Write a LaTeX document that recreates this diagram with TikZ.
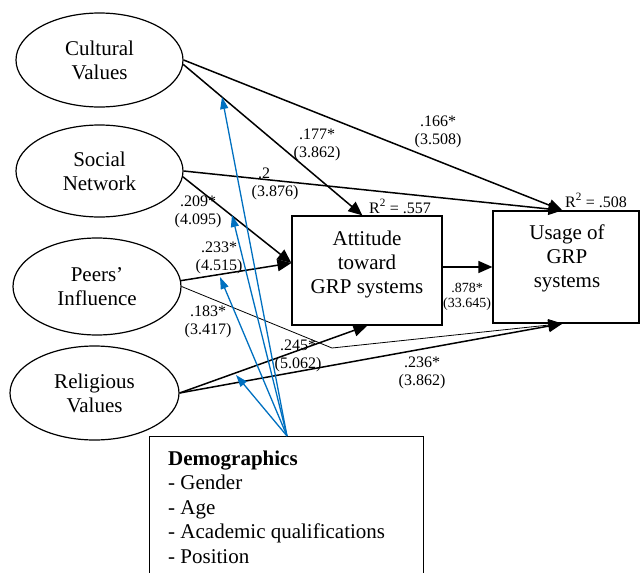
\documentclass[tikz,border=0pt]{standalone}
\usepackage{fontspec}
\setmainfont{Liberation Serif}
\usetikzlibrary{shapes.geometric,arrows.meta,calc}
\definecolor{ctrlblue}{RGB}{0,112,192}
\begin{document}
\begin{tikzpicture}[x=1pt,y=-1pt,
  every node/.style={font=\fontsize{21}{24}\selectfont, align=center},
  latent/.style={draw, ellipse, line width=1.2pt, inner sep=0pt},
  boxnode/.style={draw, rectangle, line width=1.2pt, inner sep=0pt},
  effect/.style={line width=1.5pt, -{Triangle[length=14pt,width=12pt]}},
  thineffect/.style={line width=0.8pt, -{Triangle[length=14pt,width=12pt]}},
  ctrl/.style={draw=ctrlblue, line width=1.3pt, -{Triangle[length=12pt,width=8pt]}},
  coef/.style={font=\fontsize{16}{18}\selectfont, inner sep=0pt},
  smallcoef/.style={font=\fontsize{14}{15}\selectfont, inner sep=0pt},
  ]
\useasboundingbox (0,0) rectangle (641,573);

% latent variables
\node[latent, minimum width=167pt, minimum height=94pt] (cv) at (99.5,60) {Cultural\\Values};
\node[latent, minimum width=167pt, minimum height=92pt] (sn) at (99.5,171) {Social\\Network};
\node[latent, minimum width=168pt, minimum height=97pt] (pi) at (97,286.5) {Peers’\\Influence};
\node[latent, minimum width=169pt, minimum height=94pt] (rv) at (94.5,393) {Religious\\Values};

% boxes
\node[boxnode, minimum width=150pt, minimum height=109pt] (att) at (367,270.5) {};
\node (attt) at (367,264) {Attitude\\toward\\GRP systems};
\node[boxnode, minimum width=146pt, minimum height=112pt] (usg) at (566,267) {};
\node (usgt) at (567,258.5) {Usage of\\GRP\\systems};

\node[boxnode, minimum width=274pt, minimum height=150pt, anchor=north west] (demo) at (149,436) {};
\node[anchor=north west, align=left, inner sep=0pt, font=\fontsize{21}{24.5}\selectfont] (demot) at (168,450.7)
  {\textbf{Demographics}\\- Gender\\- Age\\- Academic qualifications\\- Position};

% connector end points
\coordinate (usgT) at ($(usg.north west)+(70,0)$);
\coordinate (usgB) at ($(usg.south west)+(70,0)$);
\coordinate (attT) at ($(att.north west)+(71,0)$);
\coordinate (attL) at ($(att.west)+(0,-7.5)$);
\coordinate (attB) at ($(att.south west)+(76,0)$);
\coordinate (attR) at ($(att.east)+(0,-3.5)$);
\coordinate (usgL) at (usg.west);
\coordinate (bend) at (332,348);

\coordinate (src) at ($(demo.north west)+(138,0)$);
\coordinate (tcv) at (222,97);
\coordinate (tsn) at (232,215);
\coordinate (tpi) at (220,277);
\coordinate (trv) at (236,375);

% structural paths
\draw[effect] (cv.east) -- (usgT);
\draw[effect] (cv.-3) -- (attT);
\draw[effect] (sn.east) -- (usgT);
\draw[effect] (sn.-4) -- (attL);
\draw[effect] (pi.4) -- (attL);
\draw[thineffect] (pi.east) -- (bend) -- (usgB);
\draw[effect] (rv.east) -- (attB);
\draw[effect] (rv.east) -- (usgB);
\draw[effect] (attR) -- (usgL);

% control paths
\draw[ctrl] (src) -- (tcv);
\draw[ctrl] (src) -- (tsn);
\draw[ctrl] (src) -- (tpi);
\draw[ctrl] (src) -- (trv);

% coefficients
\node[coef] (c1) at (317,145) {.177*\\(3.862)};
\node[coef] (c2) at (438,132) {.166*\\(3.508)};
\node[coef] (c3) at (275,184) {.2\hspace*{22pt}\\(3.876)};
\node[coef] (c4) at (198,212) {.209*\\(4.095)};
\node[coef] (c5) at (219,258) {.233*\\(4.515)};
\node[coef] (c6) at (208,322) {.183*\\(3.417)};
\node[coef] (c7) at (298,356) {.245*\\(5.062)};
\node[coef] (c8) at (422,373) {.236*\\(3.862)};
\node[smallcoef] (c9) at (467,297) {.878*\\(33.645)};
\node[coef, anchor=base west] (r1) at (369,213) {R\textsuperscript{2} = .557};
\node[coef, anchor=base west] (r2) at (565,207) {R\textsuperscript{2} = .508};
\end{tikzpicture}
\end{document}
